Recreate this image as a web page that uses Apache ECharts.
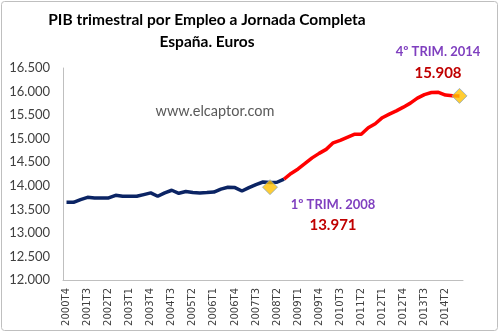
<!DOCTYPE html>
<html><head><meta charset="utf-8">
<script src="https://cdn.jsdelivr.net/npm/echarts@6/dist/echarts.min.js"></script>
<style>html,body{margin:0;padding:0;background:#fff}#c{width:500px;height:333px}</style>
</head><body><div id="c"></div>
<script>
// Quarterly categories 2000T4 .. 2014T4
const categories = ['2000T4',
 '2001T1','2001T2','2001T3','2001T4','2002T1','2002T2','2002T3','2002T4',
 '2003T1','2003T2','2003T3','2003T4','2004T1','2004T2','2004T3','2004T4',
 '2005T1','2005T2','2005T3','2005T4','2006T1','2006T2','2006T3','2006T4',
 '2007T1','2007T2','2007T3','2007T4','2008T1','2008T2','2008T3','2008T4',
 '2009T1','2009T2','2009T3','2009T4','2010T1','2010T2','2010T3','2010T4',
 '2011T1','2011T2','2011T3','2011T4','2012T1','2012T2','2012T3','2012T4',
 '2013T1','2013T2','2013T3','2013T4','2014T1','2014T2','2014T3','2014T4'];
// Blue segment (2000T4 .. 2008T3)
const bluePeriod = [13649,13649,13706,13755,13743,13743,13743,13798,13777,13777,
 13777,13813,13849,13777,13849,13905,13841,13877,13856,13849,
 13856,13866,13930,13969,13962,13888,13962,14026,14080,14070,
 14075,14143];
// Red segment (2008T3 .. 2014T4)
const redPeriod = [14143,14261,14357,14474,14592,14688,14773,14912,14965,15029,
 15093,15093,15232,15317,15445,15520,15590,15669,15754,15861,
 15936,15980,15985,15925,15910,15908];
const highlightCats = ['2008T1','2014T4'];
const highlightVals = [13971,15908];
const yTicks = {min:12000, max:16500, interval:500};

const blueData = categories.map((c,i)=> i < bluePeriod.length ? bluePeriod[i] : null);
const redStart = categories.length - redPeriod.length;
const redData = categories.map((c,i)=> i >= redStart ? redPeriod[i-redStart] : null);

const fmt = v => String(v).replace(/\B(?=(\d{3})+(?!\d))/g,'.');
const FONT = 'Lato, "Open Sans", sans-serif';

const chart = echarts.init(document.getElementById('c'));
chart.setOption({
  animation:false,
  backgroundColor:'#fff',
  grid:{left:63,right:37,top:68,bottom:53},
  xAxis:{type:'category',data:categories,boundaryGap:true,
    axisLine:{lineStyle:{color:'#BFBFBF',width:1}},
    axisTick:{show:false},
    axisLabel:{interval:2,rotate:90,margin:8,fontSize:10,color:'#404040',fontFamily:'"DejaVu Sans", sans-serif'}
  },
  yAxis:{type:'value',min:yTicks.min,max:yTicks.max,interval:yTicks.interval,
    axisLine:{show:true,lineStyle:{color:'#BFBFBF',width:1}},
    axisTick:{show:false},
    splitLine:{show:false},
    axisLabel:{formatter:fmt,fontSize:13,color:'#404040',margin:13,fontFamily:FONT}
  },
  series:[
    {type:'line',data:blueData,showSymbol:false,symbol:'none',
     lineStyle:{color:'#0B2464',width:3.5},connectNulls:false,z:2},
    {type:'line',data:redData,showSymbol:false,symbol:'none',
     lineStyle:{color:'#FF0000',width:3.5},connectNulls:false,z:2},
    {type:'scatter',data:highlightCats.map((c,i)=>[c,highlightVals[i]]),
     symbol:'diamond',symbolSize:[15,15],
     itemStyle:{color:'#FFC000',borderColor:'#8EA9C1',borderWidth:1},z:5}
  ],
  graphic:[
    {type:'rect',shape:{x:1.5,y:1.5,width:496,height:329,r:3},style:{fill:'none',stroke:'#BFBFBF',lineWidth:1}},
    {type:'text',style:{x:207,y:20,text:'PIB trimestral por Empleo a Jornada Completa',textAlign:'center',textVerticalAlign:'middle',font:'bold 15.5px '+FONT,fill:'#000'}},
    {type:'text',style:{x:207,y:42,text:'España. Euros',textAlign:'center',textVerticalAlign:'middle',font:'bold 15.5px '+FONT,fill:'#000'}},
    {type:'text',style:{x:215,y:111,text:'www.elcaptor.com',textAlign:'center',textVerticalAlign:'middle',font:'14.5px '+FONT,fill:'#595959'}},
    {type:'text',style:{x:333,y:205,text:'1º TRIM. 2008',textAlign:'center',textVerticalAlign:'middle',font:'bold 13px '+FONT,fill:'#7F3FBF'}},
    {type:'text',style:{x:333,y:225,text:'13.971',textAlign:'center',textVerticalAlign:'middle',font:'bold 15px '+FONT,fill:'#C00000'}},
    {type:'text',style:{x:438,y:52,text:'4º TRIM. 2014',textAlign:'center',textVerticalAlign:'middle',font:'bold 13px '+FONT,fill:'#7F3FBF'}},
    {type:'text',style:{x:438,y:73,text:'15.908',textAlign:'center',textVerticalAlign:'middle',font:'bold 15px '+FONT,fill:'#C00000'}}
  ]
});
</script></body></html>
